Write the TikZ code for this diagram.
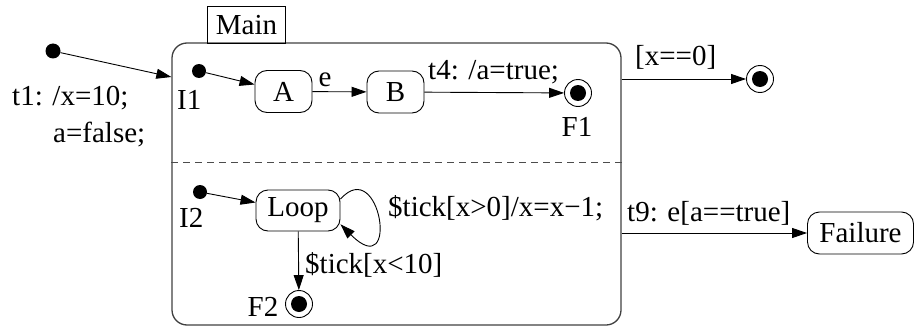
\documentclass[tikz,border=0pt]{standalone}
\usepackage{fontspec}
\setmainfont{Liberation Serif}
\usetikzlibrary{arrows.meta}
\begin{document}
\begin{tikzpicture}[x=1pt,y=-1pt,
  every node/.style={font=\fontsize{29}{34}\selectfont},
  lbl/.style={inner sep=0pt, anchor=west},
  state/.style={draw, rounded corners=12pt, line width=0.9pt, inner sep=0pt},
  initdot/.style={circle, fill, inner sep=0pt, minimum size=15pt},
  fin/.style={circle, draw, line width=0.9pt, inner sep=0pt, minimum size=27pt,
    path picture={\fill (path picture bounding box.center) circle (8pt);}},
  arr/.style={-{Triangle[length=15pt,width=10pt]}, line width=0.9pt},
]
\useasboundingbox (0,0) rectangle (915,329);
% Main superstate
\node[draw=black!75, line width=1.3pt, rounded corners=15pt, minimum width=449pt, minimum height=282pt, inner sep=0pt] (main) at (396.5,184) {};
\node[draw, line width=0.9pt, minimum width=78pt, minimum height=37pt, inner sep=0pt, anchor=south west] (tab) at (207,44) {Main};
\draw[black!70, line width=1pt, dash pattern=on 7pt off 5pt] (main.west |- 0,162) -- (main.east |- 0,162);

% top region
\node[initdot] (init0) at (53,51) {};
\coordinate (t1end) at (main.west |- 0,77);
\draw[arr] (init0) -- (t1end);
\node[lbl] (t1a) at (12,98) {t1: /x=10;};
\node[lbl] (t1b) at (53,135) {a=false;};

\node[initdot, minimum size=14pt] (i1) at (199,71) {};
\node[lbl] (i1l) at (177,100) {I1};
\node[state, minimum width=57pt, minimum height=42pt] (A) at (283.5,91.5) {A};
\node[state, minimum width=57pt, minimum height=42pt] (B) at (395.5,92) {B};
\node[fin] (F1) at (578,93) {};
\node (F1l) at (577,127) {F1};
\draw[arr] (i1) -- (A);
\draw[arr] (A) -- (B);
\node (el) at (325,80) {e};
\draw[arr] (B) -- (F1);
\node[lbl] (t4l) at (428,72) {t4: /a=true;};

\node[fin] (Ftop) at (760,79) {};
\draw[arr] (main.east |- Ftop) -- (Ftop);
\node[lbl] (x0l) at (635,57) {[x==0]};

% bottom region
\node[initdot, minimum size=14pt] (i2) at (200,192) {};
\node[lbl] (i2l) at (179,218) {I2};
\node[state, minimum width=84pt, minimum height=41pt] (Loop) at (298,210.5) {Loop};
\draw[arr] (i2) -- (Loop);
\draw[arr] (Loop.15) .. controls +(40,-45) and +(60,60) .. (Loop.-18);
\node[lbl] (loopl) at (388,208) {\$tick[x>0]/x=x−1;};
\node[fin] (F2) at (299,304) {};
\node (F2l) at (263,307) {F2};
\draw[arr] (Loop) -- (F2);
\node[lbl] (t10l) at (305,265) {\$tick[x<10]};

\node[state, minimum width=106pt, minimum height=42pt] (Fail) at (860.5,233) {Failure};
\draw[arr] (main.east |- Fail) -- (Fail);
\node[lbl] (t9l) at (627,213) {t9: e[a==true]};
\end{tikzpicture}
\end{document}
